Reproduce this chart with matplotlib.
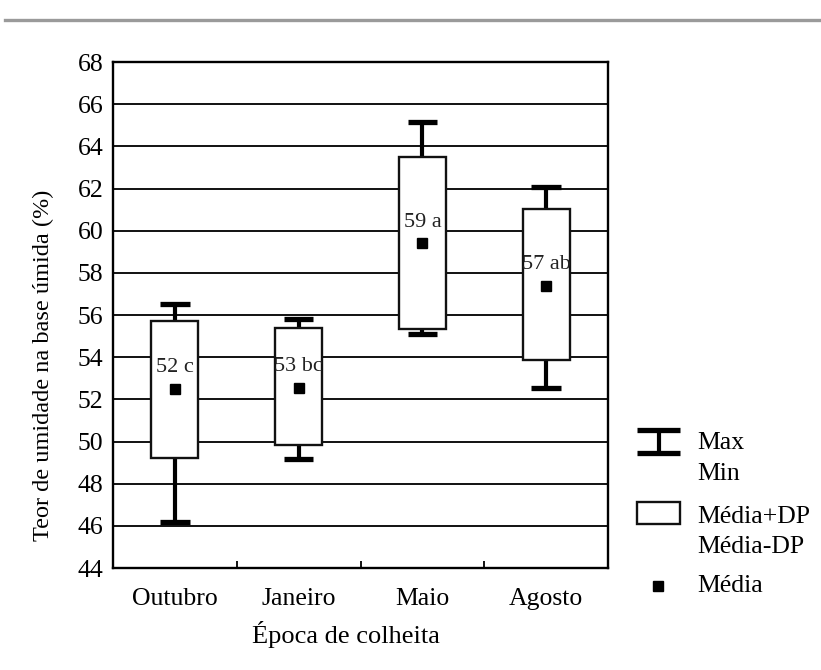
import matplotlib
matplotlib.use("Agg")
import matplotlib.pyplot as plt
from matplotlib.lines import Line2D
from matplotlib.patches import Rectangle

plt.rcParams["font.family"] = ["Liberation Serif", "DejaVu Serif"]

# Teor de umidade por época de colheita
epocas   = ["Outubro", "Janeiro", "Maio", "Agosto"]
media    = [52.5, 52.55, 59.4, 57.4]
media_dp_sup = [55.7, 55.37, 63.5, 61.05]
media_dp_inf = [49.2, 49.83, 55.32, 53.87]
maximo   = [56.5, 55.83, 65.17, 62.07]
minimo   = [46.2, 49.15, 55.1, 52.52]
rotulos  = ["52 c", "53 bc", "59 a", "57 ab"]
yticks   = list(range(44, 69, 2))

BOX_W = 0.38
CAP_W = 0.24
FS = 18.5

fig = plt.figure(figsize=(8.21, 6.70), dpi=100)

# linha cinza no topo da página
fig.add_artist(Line2D([0.006, 1.0], [0.970, 0.970], transform=fig.transFigure,
                      color="#9a9a9a", linewidth=2.4))

ax = fig.add_axes([0.1376, 0.1522, 0.6030, 0.7552])
ax.set_xlim(-0.5, 3.5)
ax.set_ylim(44, 68)
ax.set_yticks(yticks)
ax.yaxis.grid(True, color="#111111", linewidth=1.4)
ax.set_axisbelow(True)

for i in range(len(epocas)):
    # haste e barra de max / min
    ax.plot([i, i], [media_dp_sup[i], maximo[i]], color="black", lw=3.0, zorder=2,
            solid_capstyle="butt")
    ax.plot([i, i], [minimo[i], media_dp_inf[i]], color="black", lw=3.0, zorder=2,
            solid_capstyle="butt")
    for v in (maximo[i], minimo[i]):
        ax.plot([i - CAP_W / 2, i + CAP_W / 2], [v, v], color="black", lw=3.8,
                zorder=2, solid_capstyle="butt")
    # caixa média ± DP
    ax.add_patch(Rectangle((i - BOX_W / 2, media_dp_inf[i]), BOX_W,
                           media_dp_sup[i] - media_dp_inf[i],
                           facecolor="white", edgecolor="#111111", lw=1.7, zorder=3))
    ax.plot(i, media[i], marker="s", markersize=6.5, color="black", zorder=4)
    ax.text(i, media[i] + 1.0, rotulos[i], ha="center", va="center",
            fontsize=16, color="#222222", zorder=5)

ax.set_xticks(range(len(epocas)))
ax.set_xticklabels(epocas, fontsize=FS)
ax.set_xticks([0.5, 1.5, 2.5], minor=True)
ax.tick_params(axis="x", which="major", length=0, pad=14.5)
ax.tick_params(axis="x", which="minor", direction="in", length=5, width=1.3)
ax.tick_params(axis="y", length=0, labelsize=FS, pad=7)
for s in ax.spines.values():
    s.set_linewidth(1.7)

ax.set_xlabel("Época de colheita", fontsize=19)
ax.set_ylabel("Teor de umidade na base úmida (%)", fontsize=17.5)
ax.xaxis.set_label_coords(0.471, -0.105)
ax.yaxis.set_label_coords(-0.119, 0.401)

# legenda desenhada à parte, em coordenadas de pixel
lg = fig.add_axes([620 / 821, 50 / 670, 200 / 821, 220 / 670])
lg.set_xlim(620, 820)
lg.set_ylim(620, 400)
lg.axis("off")

lg.plot([637, 680], [429.5, 429.5], color="black", lw=3.8, solid_capstyle="butt")
lg.plot([637, 680], [452.5, 452.5], color="black", lw=3.8, solid_capstyle="butt")
lg.plot([659, 659], [429.5, 452.5], color="black", lw=3.0, solid_capstyle="butt")
lg.add_patch(Rectangle((637, 502), 43, 22, facecolor="white", edgecolor="#111111", lw=1.7))
lg.plot(658, 586, marker="s", markersize=6.5, color="black")

lg.text(697, 443, "Max", fontsize=FS, va="center", ha="left")
lg.text(697, 474, "Min", fontsize=FS, va="center", ha="left")
lg.text(697, 517, "Média+DP", fontsize=FS, va="center", ha="left")
lg.text(697, 547, "Média-DP", fontsize=FS, va="center", ha="left")
lg.text(697, 586, "Média", fontsize=FS, va="center", ha="left")

fig.savefig("out.png", dpi=100)
